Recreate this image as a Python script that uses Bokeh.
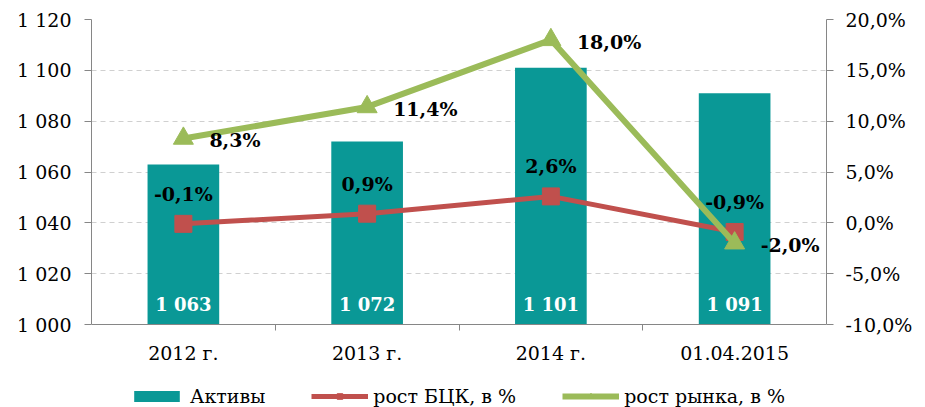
from bokeh.plotting import figure
from bokeh.models import (Range1d, LinearAxis, FixedTicker, ColumnDataSource,
                          Legend, LegendItem)
from bokeh.core.properties import value
from bokeh.embed import file_html
from bokeh.resources import INLINE

categories = ["2012 г.", "2013 г.", "2014 г.", "01.04.2015"]
assets = [1063, 1072, 1101, 1091]
assets_labels = ["1 063", "1 072", "1 101", "1 091"]
bck_growth = [-0.1, 0.9, 2.6, -0.9]
market_growth = [8.3, 11.4, 18.0, -2.0]
left_ticks = [1000, 1020, 1040, 1060, 1080, 1100, 1120]
left_tick_labels = ["1 000", "1 020", "1 040", "1 060", "1 080", "1 100", "1 120"]
right_ticks = [-10, -5, 0, 5, 10, 15, 20]
right_tick_labels = ["-10,0%", "-5,0%", "0,0%", "5,0%", "10,0%", "15,0%", "20,0%"]

TEAL = "#0a9896"
RED = "#c0504d"
GREEN = "#9bbb59"
FONT = "DejaVu Serif"

W, H = 925, 407
TOP, AXIS_Y = 19, 324          # pixel rows of the top and bottom of the value axes
EXTRA = H - AXIS_Y              # room under the axes kept inside the frame

def pct(v):
    return ("%.1f" % v).replace(".", ",") + "%"

def extended(lo, hi):
    span = hi - lo
    return lo - span * EXTRA / (AXIS_Y - TOP)

xs = [i + 0.5 for i in range(len(categories))]
src = ColumnDataSource(dict(
    x=xs, assets=assets, alab=assets_labels,
    base=[left_ticks[0]] * len(xs),
    bck=bck_growth, mkt=market_growth,
    bck_lab=[pct(v) for v in bck_growth],
    mkt_lab=[pct(v) for v in market_growth],
))

p = figure(width=W, height=H, output_backend="svg", toolbar_location=None,
           x_range=Range1d(0, len(categories)),
           y_range=Range1d(extended(left_ticks[0], left_ticks[-1]), left_ticks[-1]),
           x_axis_location=None,
           min_border_left=91, min_border_right=99, min_border_top=TOP,
           min_border_bottom=0)
p.extra_y_ranges = {"pct": Range1d(extended(right_ticks[0], right_ticks[-1]), right_ticks[-1])}
p.outline_line_color = None
p.background_fill_color = "white"
p.border_fill_color = "white"

bars = p.vbar(x="x", top="assets", bottom="base", width=0.39, source=src,
              fill_color=TEAL, line_color=None)
p.text(x="x", y="base", text="alab", source=src, text_color="white",
       text_font=value(FONT), text_font_style="bold", text_font_size="18px",
       text_align="center", text_baseline="bottom", y_offset=-10)

red_line = p.line(x="x", y="bck", source=src, y_range_name="pct",
                  line_color=RED, line_width=5)
red_mark = p.scatter(x="x", y="bck", source=src, y_range_name="pct",
                     marker="square", size=17, fill_color=RED, line_color=RED)
green_line = p.line(x="x", y="mkt", source=src, y_range_name="pct",
                    line_color=GREEN, line_width=6)
green_mark = p.scatter(x="x", y="mkt", source=src, y_range_name="pct",
                       marker="triangle", size=20, fill_color=GREEN, line_color=GREEN)

p.text(x="x", y="bck", text="bck_lab", source=src, y_range_name="pct",
       text_color="black", text_font=value(FONT), text_font_style="bold",
       text_font_size="19px", text_align="center", text_baseline="middle",
       y_offset=-30)
p.text(x="x", y="mkt", text="mkt_lab", source=src, y_range_name="pct",
       text_color="black", text_font=value(FONT), text_font_style="bold",
       text_font_size="19px", text_align="left", text_baseline="middle",
       x_offset=26, y_offset=2)

# axes styling
AX = "#868686"
p.xgrid.grid_line_color = None
p.ygrid.grid_line_color = "#d0d0d0"
p.ygrid.grid_line_dash = "5 4"
p.ygrid.ticker = FixedTicker(ticks=left_ticks[1:])

xa = LinearAxis(fixed_location=left_ticks[0],
                ticker=FixedTicker(ticks=xs, minor_ticks=list(range(1, len(categories)))))
xa.major_label_overrides = {x: c for x, c in zip(xs, categories)}
xa.major_tick_line_color = None
xa.minor_tick_line_color = AX
xa.minor_tick_out = 6
xa.minor_tick_in = 0
xa.axis_line_color = AX
xa.major_label_text_font = FONT
xa.major_label_text_font_size = "19px"
xa.major_label_text_color = "black"
xa.major_label_standoff = 11
p.add_layout(xa, "below")

ya = p.yaxis[0]
ya.ticker = FixedTicker(ticks=left_ticks)
ya.bounds = (left_ticks[0], left_ticks[-1])
ya.major_label_overrides = {t: l for t, l in zip(left_ticks, left_tick_labels)}
ya.minor_tick_line_color = None
ya.major_tick_out = 7
ya.major_tick_in = 0
ya.major_tick_line_color = AX
ya.axis_line_color = AX
ya.major_label_text_font = FONT
ya.major_label_text_font_size = "19px"
ya.major_label_text_color = "black"
ya.major_label_standoff = 13

ra = LinearAxis(y_range_name="pct", ticker=FixedTicker(ticks=right_ticks),
                bounds=(right_ticks[0], right_ticks[-1]))
ra.major_label_overrides = {t: l for t, l in zip(right_ticks, right_tick_labels)}
ra.minor_tick_line_color = None
ra.major_tick_out = 7
ra.major_tick_in = 0
ra.major_tick_line_color = AX
ra.axis_line_color = AX
ra.major_label_text_font = FONT
ra.major_label_text_font_size = "19px"
ra.major_label_text_color = "black"
ra.major_label_standoff = 12
p.add_layout(ra, "right")

legend = Legend(items=[
    LegendItem(label="Активы", renderers=[bars]),
    LegendItem(label="рост БЦК, в %", renderers=[red_line, red_mark]),
    LegendItem(label="рост рынка, в %", renderers=[green_line, green_mark]),
], orientation="horizontal", location=(37, 0))
legend.label_text_font = FONT
legend.label_text_font_size = "19px"
legend.label_text_color = "black"
legend.glyph_width = 57
legend.glyph_height = 14
legend.label_height = 20
legend.label_standoff = 5
legend.spacing = 46
legend.padding = 0
legend.margin = 0
legend.border_line_color = None
legend.background_fill_alpha = 0
p.add_layout(legend, "center")

open("out.html", "w").write(file_html(p, INLINE))
